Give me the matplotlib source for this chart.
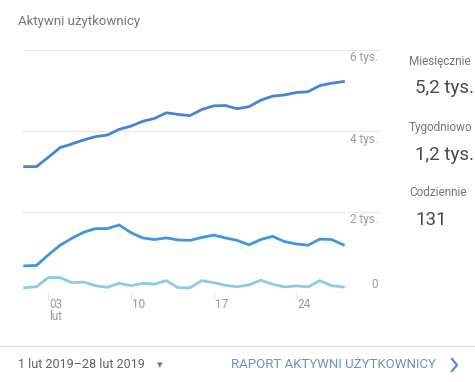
import matplotlib.pyplot as plt
import matplotlib.transforms as mtransforms
import numpy as np

plt.rcParams["font.family"] = ["Roboto", "DejaVu Sans"]

# Days of February 2019
days = np.arange(1, 29)

monthly = [3120, 3120, 3350, 3590, 3680, 3780, 3860, 3900, 4040, 4120,
           4240, 4310, 4450, 4410, 4380, 4530, 4620, 4630, 4550, 4600,
           4760, 4860, 4890, 4950, 4970, 5120, 5180, 5220]
weekly = [670, 680, 940, 1180, 1350, 1500, 1590, 1590, 1680, 1490,
          1360, 1320, 1360, 1310, 1300, 1370, 1430, 1360, 1300, 1190,
          1320, 1400, 1270, 1210, 1180, 1330, 1320, 1190]
daily = [130, 155, 380, 380, 255, 270, 180, 140, 240, 180,
         240, 220, 305, 130, 130, 305, 255, 190, 155, 200,
         315, 215, 150, 175, 150, 305, 180, 150]

y_ticks = [0, 2000, 4000, 6000]
y_tick_labels = ["0", "2 tys.", "4 tys.", "6 tys."]
x_ticks = [3, 10, 17, 24]
x_tick_labels = ["03\nlut", "10", "17", "24"]

summary_labels = ["Miesięcznie", "Tygodniowo", "Codziennie"]
summary_values = ["5,2 tys.", "1,2 tys.", "131"]

W, H = 475, 382
fig = plt.figure(figsize=(W / 100, H / 100), dpi=100)


def fy(py):
    """pixel row from the top -> figure fraction"""
    return 1 - py / H


ax_left, ax_right, ax_bottom, ax_top = 23, 380, 293, 50
ax = fig.add_axes([ax_left / W, fy(ax_bottom),
                   (ax_right - ax_left) / W, (ax_bottom - ax_top) / H])

grid_c = "#e8e8e8"
text_c = "#9a9a9a"

for v in y_ticks:
    ax.axhline(v, color=grid_c, linewidth=0.9, zorder=0)

ax.plot(days, monthly, color="#4684d6", linewidth=2.0)
ax.plot(days, weekly, color="#3e97df", linewidth=2.0)
ax.plot(days, daily, color="#8ccbe2", linewidth=2.0)

ax.set_xlim(0.86, 31.1)
ax.set_ylim(0, 6000)
ax.set_axis_off()

# y labels on the right, inside the plot
for v, lab in zip(y_ticks, y_tick_labels):
    dy = 8 if v == 0 else -8
    off = mtransforms.offset_copy(ax.transData, fig=fig, x=-2, y=dy, units="dots")
    ax.text(31.1, v, lab, transform=off, ha="right", va="center",
            fontsize=8.5, color=text_c)

# x ticks and labels
tick_tr = mtransforms.blended_transform_factory(ax.transData, fig.transFigure)
for d, lab in zip(x_ticks, x_tick_labels):
    fig.add_artist(plt.Line2D([d, d], [fy(293), fy(299)],
                              transform=tick_tr, color=grid_c, linewidth=0.9))
    off = mtransforms.offset_copy(tick_tr, fig=fig, x=1, y=0, units="dots")
    fig.text(d, fy(298), lab, transform=off, ha="left", va="top",
             fontsize=8.5, color=text_c, linespacing=0.95)

# title
fig.text(18 / W, fy(22), "Aktywni użytkownicy", ha="left", va="center",
         fontsize=9.5, color="#757575")

# summary panel
label_y = [62, 128, 193]
value_y = [88, 155, 220]
for lab, val, ly, vy in zip(summary_labels, summary_values, label_y, value_y):
    fig.text(409 / W, fy(ly), lab, ha="left", va="center",
             fontsize=8.5, color="#757575")
    fig.text(415 / W, fy(vy), val, ha="left", va="center",
             fontsize=13.5, color="#4a4a4a")

# footer
fig.add_artist(plt.Line2D([0, 1], [fy(346), fy(346)],
                          transform=fig.transFigure, color="#e0e0e0", linewidth=0.9))
fig.text(18 / W, fy(365), "1 lut 2019–28 lut 2019", ha="left", va="center",
         fontsize=9, color="#616161")
fig.text(157 / W, fy(365), "▾", ha="left", va="center",
         fontsize=8, color="#757575", family="DejaVu Sans")
fig.text(231 / W, fy(365), "RAPORT AKTYWNI UŻYTKOWNICY", ha="left", va="center",
         fontsize=9.5, color="#6f8fbf")
# chevron
fig.add_artist(plt.Line2D([452 / W, 457 / W, 452 / W], [fy(359), fy(365), fy(371)],
                          transform=fig.transFigure, color="#5a8ad0", linewidth=1.6))

fig.savefig("out.png", dpi=100)
